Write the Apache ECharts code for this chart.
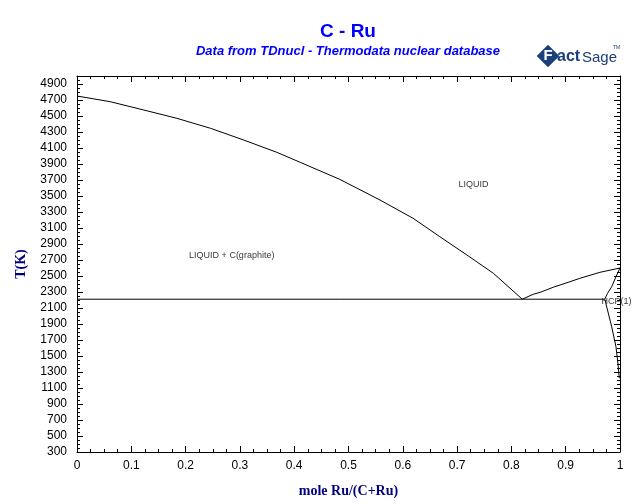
<!DOCTYPE html>
<html><head><meta charset="utf-8">
<script src="https://cdn.jsdelivr.net/npm/echarts@6/dist/echarts.min.js"></script>
<style>html,body{margin:0;padding:0;background:#fff}#c{width:640px;height:504px}</style>
</head><body><div id="c"></div>
<script>
// C-side liquidus (LIQUID / LIQUID + C(graphite))
const liquidusC_x = [0, 0.061, 0.123, 0.184, 0.246, 0.307, 0.368, 0.411, 0.484, 0.558, 0.619, 0.668, 0.718, 0.767, 0.82];
const liquidusC_T = [4750, 4679, 4575, 4471, 4346, 4200, 4046, 3921, 3708, 3450, 3221, 2992, 2763, 2533, 2210];
// Ru-side liquidus
const liquidusRu_x = [0.82, 0.840, 0.853, 0.877, 0.908, 0.926, 0.963, 1.0];
const liquidusRu_T = [2210, 2271, 2296, 2359, 2429, 2471, 2546, 2600];
// HCP solidus
const solidus_x = [1.0, 0.9926, 0.9847, 0.977, 0.972];
const solidus_T = [2600, 2491, 2366, 2283, 2210];
// HCP solvus
const solvus_x = [0.972, 0.9847, 0.9926, 0.9969, 0.9987];
const solvus_T = [2210, 1866, 1616, 1366, 1221];
// Eutectic line
const eutectic_x = [0, 0.972];
const eutectic_T = [2210, 2210];
// Region labels
const regionNames = ['LIQUID', 'LIQUID + C(graphite)', 'HCP(1)'];
const regionX = [0.73, 0.285, 0.965];
const regionT = [3640, 2750, 2175];
// Tick values
const yMajorTicks = [300, 500, 700, 900, 1100, 1300, 1500, 1700, 1900, 2100, 2300, 2500, 2700, 2900, 3100, 3300, 3500, 3700, 3900, 4100, 4300, 4500, 4700, 4900];
const titleText = 'C - Ru';
const subtitleText = 'Data from TDnucl - Thermodata nuclear database';
const xName = 'mole Ru/(C+Ru)';
const yName = 'T(K)';

function zip(xs, ys) { return xs.map((x, i) => [x, ys[i]]); }

const chart = echarts.init(document.getElementById('c'), null, {renderer: 'canvas'});
const black = '#000';
const lineSeries = (name, xs, ys) => ({
  name, type: 'line', data: zip(xs, ys), showSymbol: false, symbol: 'none',
  lineStyle: {color: black, width: 1}, silent: true, animation: false, z: 3
});
const baseY = {
  type: 'value', min: 300, max: 5000, splitLine: {show: false},
  axisLine: {show: true, onZero: false, lineStyle: {color: black, width: 1}}
};
const baseX = {
  type: 'value', min: 0, max: 1, interval: 0.1, splitLine: {show: false},
  axisLine: {show: true, onZero: false, lineStyle: {color: black, width: 1}},
  axisTick: {show: true, inside: true, length: 6, lineStyle: {color: black}},
  minorTick: {show: true, splitNumber: 4, length: 3, lineStyle: {color: black}},
  minorSplitLine: {show: false}
};

chart.setOption({
  animation: false,
  backgroundColor: '#fff',
  title: [
    {text: titleText, left: 348, top: 22, textAlign: 'center', padding: 0,
     textStyle: {color: '#0000FF', fontFamily: 'Liberation Sans', fontWeight: 'bold', fontSize: 19}},
    {text: subtitleText, left: 348, top: 45, textAlign: 'center', padding: 0,
     textStyle: {color: '#0000FF', fontFamily: 'Liberation Sans', fontWeight: 'bold', fontStyle: 'italic', fontSize: 13}}
  ],
  grid: {left: 77, top: 76, width: 543, height: 376, containLabel: false},
  xAxis: [
    Object.assign({}, baseX, {
      position: 'bottom',
      axisLabel: {color: black, fontFamily: 'Liberation Sans', fontSize: 12, margin: 8},
      name: xName, nameLocation: 'middle', nameGap: 32,
      nameTextStyle: {color: '#000080', fontFamily: 'Liberation Serif', fontWeight: 'bold', fontSize: 14}
    }),
    Object.assign({}, baseX, {position: 'top', axisLabel: {show: false}})
  ],
  yAxis: [
    Object.assign({}, baseY, {
      position: 'left', interval: 50,
      axisTick: {show: true, inside: true, length: 3, lineStyle: {color: black}},
      axisLabel: {show: false},
      name: yName, nameLocation: 'middle', nameGap: 49, nameRotate: 90,
      nameTextStyle: {color: '#000080', fontFamily: 'Liberation Serif', fontWeight: 'bold', fontSize: 14}
    }),
    Object.assign({}, baseY, {
      position: 'right', interval: 50,
      axisTick: {show: true, inside: true, length: 3, lineStyle: {color: black}},
      axisLabel: {show: false}
    }),
    Object.assign({}, baseY, {
      position: 'left', axisLine: {show: false, onZero: false},
      axisTick: {show: true, inside: true, length: 6, customValues: yMajorTicks, lineStyle: {color: black}},
      axisLabel: {show: true, customValues: yMajorTicks, formatter: v => String(v), color: black, fontFamily: 'Liberation Sans', fontSize: 12, margin: 10}
    }),
    Object.assign({}, baseY, {
      position: 'right', axisLine: {show: false, onZero: false},
      axisTick: {show: true, inside: true, length: 6, customValues: yMajorTicks, lineStyle: {color: black}},
      axisLabel: {show: false}
    })
  ],
  graphic: [
    {type: 'rect', x: 548, y: 56, rotation: Math.PI / 4, shape: {x: -8, y: -8, width: 16, height: 16},
     style: {fill: '#1b3f7a'}},
    {type: 'text', x: 548, y: 56, style: {text: 'F', fill: '#fff', font: 'bold 15px "Liberation Sans"', align: 'center', verticalAlign: 'middle'}},
    {type: 'text', x: 557, y: 57, style: {text: 'act', fill: '#1b3f7a', font: 'bold 16px "Liberation Sans"', align: 'left', verticalAlign: 'middle'}},
    {type: 'text', x: 582, y: 58, style: {text: 'Sage', fill: '#1b3f7a', font: '15px "Liberation Sans Narrow", "Liberation Sans"', align: 'left', verticalAlign: 'middle'}},
    {type: 'text', x: 613, y: 48, style: {text: 'TM', fill: '#1b3f7a', font: '5px "Liberation Sans"', align: 'left', verticalAlign: 'middle'}}
  ],
  series: [
    lineSeries('Liquidus C', liquidusC_x, liquidusC_T),
    lineSeries('Liquidus Ru', liquidusRu_x, liquidusRu_T),
    lineSeries('Solidus HCP', solidus_x, solidus_T),
    lineSeries('Solvus HCP', solvus_x, solvus_T),
    lineSeries('Eutectic', eutectic_x, eutectic_T),
    {
      name: 'Regions', type: 'scatter', symbolSize: 1, silent: true, z: 4,
      itemStyle: {color: 'rgba(0,0,0,0)'},
      data: regionNames.map((n, i) => ({
        name: n, value: [regionX[i], regionT[i]],
        label: i === 2 ? {position: 'right', distance: 0} : {position: 'inside'}
      })),
      label: {show: true, formatter: p => p.name, color: black, fontFamily: 'Liberation Sans', fontSize: 9}
    }
  ]
});
</script>
</body></html>
